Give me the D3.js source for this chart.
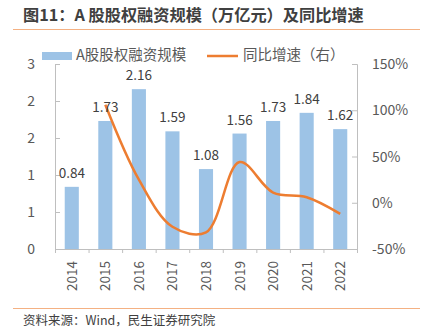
<!DOCTYPE html>
<html><head><meta charset="utf-8">
<script src="https://cdn.jsdelivr.net/npm/d3@7"></script>
<style>body{margin:0;background:#fff;font-family:"Noto Sans CJK SC","Noto Sans",sans-serif;}</style>
</head><body><svg id="c" width="425" height="333"></svg>
<script>
const years = ["2014","2015","2016","2017","2018","2019","2020","2021","2022"];
const scale = [0.84,1.73,2.16,1.59,1.08,1.56,1.73,1.84,1.62];
const growth = [null,106,25,-26,-32,44,11,6,-12];
const leftTicks = [0,0.5,1,1.5,2,2.5];
const leftTickLabels = ["0","1","1","2","2","3"];
const rightTicks = [-50,0,50,100,150];

const svg = d3.select("#c");
const font = '"Noto Sans CJK SC","Noto Sans",sans-serif';
const x0 = 55, x1 = 357, yTop = 64, yBot = 249;
const x = d3.scaleBand().domain(years).range([x0,x1]).paddingInner(0.58).paddingOuter(0.29);
const xc = d3.scaleBand().domain(years).range([x0,x1]);
const yL = d3.scaleLinear().domain([0,2.5]).range([yBot,yTop]);
const yR = d3.scaleLinear().domain([-50,150]).range([yBot,yTop]);

// title
svg.append("text").attr("x",23).attr("y",21).attr("font-family",font).attr("font-weight","bold")
  .attr("font-size",16.2).attr("fill","#404040").text("图11：A 股股权融资规模（万亿元）及同比增速");
svg.append("line").attr("x1",13).attr("x2",420).attr("y1",29.5).attr("y2",29.5).attr("stroke","#f4b183").attr("stroke-width",1);
svg.append("line").attr("x1",13).attr("x2",420).attr("y1",308.5).attr("y2",308.5).attr("stroke","#f4b183").attr("stroke-width",1);
svg.append("text").attr("x",23).attr("y",325).attr("font-family",font).attr("font-size",12.5)
  .attr("fill","#404040").text("资料来源：Wind，民生证券研究院");

// bars
svg.append("g").selectAll("rect").data(scale).join("rect")
  .attr("x",(d,i)=>x(years[i])).attr("width",x.bandwidth())
  .attr("y",d=>yL(d)).attr("height",d=>yBot-yL(d)).attr("fill","#9dc3e6");

// axes
const axisColor = "#bfbfbf";
const gL = svg.append("g").attr("transform",`translate(${x0},0)`)
  .call(d3.axisRight(yL).tickValues(leftTicks).tickSize(5).tickFormat(""));
const gR = svg.append("g").attr("transform",`translate(${x1},0)`)
  .call(d3.axisLeft(yR).tickValues(rightTicks).tickSize(5).tickFormat(""));
const gB = svg.append("g").attr("transform",`translate(0,${yBot})`)
  .call(d3.axisBottom(xc).tickSize(4).tickFormat(""));
gB.selectAll(".tick").remove();
const bTicks = years.map(y=>xc(y)).concat([x1]);
gB.selectAll("line.t").data(bTicks).join("line").attr("class","t")
  .attr("x1",d=>d+0.5).attr("x2",d=>d+0.5).attr("y1",0).attr("y2",4).attr("stroke",axisColor);
[gL,gR,gB].forEach(g=>{g.selectAll("path,line").attr("stroke",axisColor);});

// tick labels
svg.append("g").selectAll("text").data(leftTicks).join("text")
  .attr("x",35).attr("y",d=>yL(d)+5).attr("text-anchor","end").attr("font-family",font)
  .attr("font-size",14).attr("fill","#595959").text((d,i)=>leftTickLabels[i]);
svg.append("g").selectAll("text").data(rightTicks).join("text")
  .attr("x",372).attr("y",d=>yR(d)+5).attr("text-anchor","start").attr("font-family",font)
  .attr("font-size",14).attr("fill","#595959").text(d=>d+"%");
svg.append("g").selectAll("text").data(years).join("text")
  .attr("transform",d=>`translate(${xc(d)+xc.bandwidth()/2+5},${261}) rotate(-90)`)
  .attr("text-anchor","end").attr("font-family",font).attr("font-size",13.5).attr("fill","#595959").text(d=>d);

// line
const pts = growth.map((g,i)=>g==null?null:[xc(years[i])+xc.bandwidth()/2, yR(g)]).filter(p=>p);
svg.append("path").attr("d",d3.line().curve(d3.curveCatmullRom.alpha(0.5))(pts))
  .attr("fill","none").attr("stroke","#ed7d31").attr("stroke-width",2.5);

// data labels
svg.append("g").selectAll("text").data(scale).join("text")
  .attr("x",(d,i)=>xc(years[i])+xc.bandwidth()/2).attr("y",d=>yL(d)-9)
  .attr("text-anchor","middle").attr("font-family",font).attr("font-size",13.5).attr("fill","#404040")
  .text(d=>d.toFixed(2));

// legend
svg.append("rect").attr("x",42).attr("y",52).attr("width",30).attr("height",8).attr("fill","#9dc3e6");
svg.append("text").attr("x",76).attr("y",60).attr("font-family",font).attr("font-size",14.5)
  .attr("fill","#595959").text("A股股权融资规模");
svg.append("line").attr("x1",207).attr("x2",238).attr("y1",56).attr("y2",56).attr("stroke","#ed7d31").attr("stroke-width",2.5);
svg.append("text").attr("x",243).attr("y",60).attr("font-family",font).attr("font-size",14.5)
  .attr("fill","#595959").text("同比增速（右）");
</script></body></html>
